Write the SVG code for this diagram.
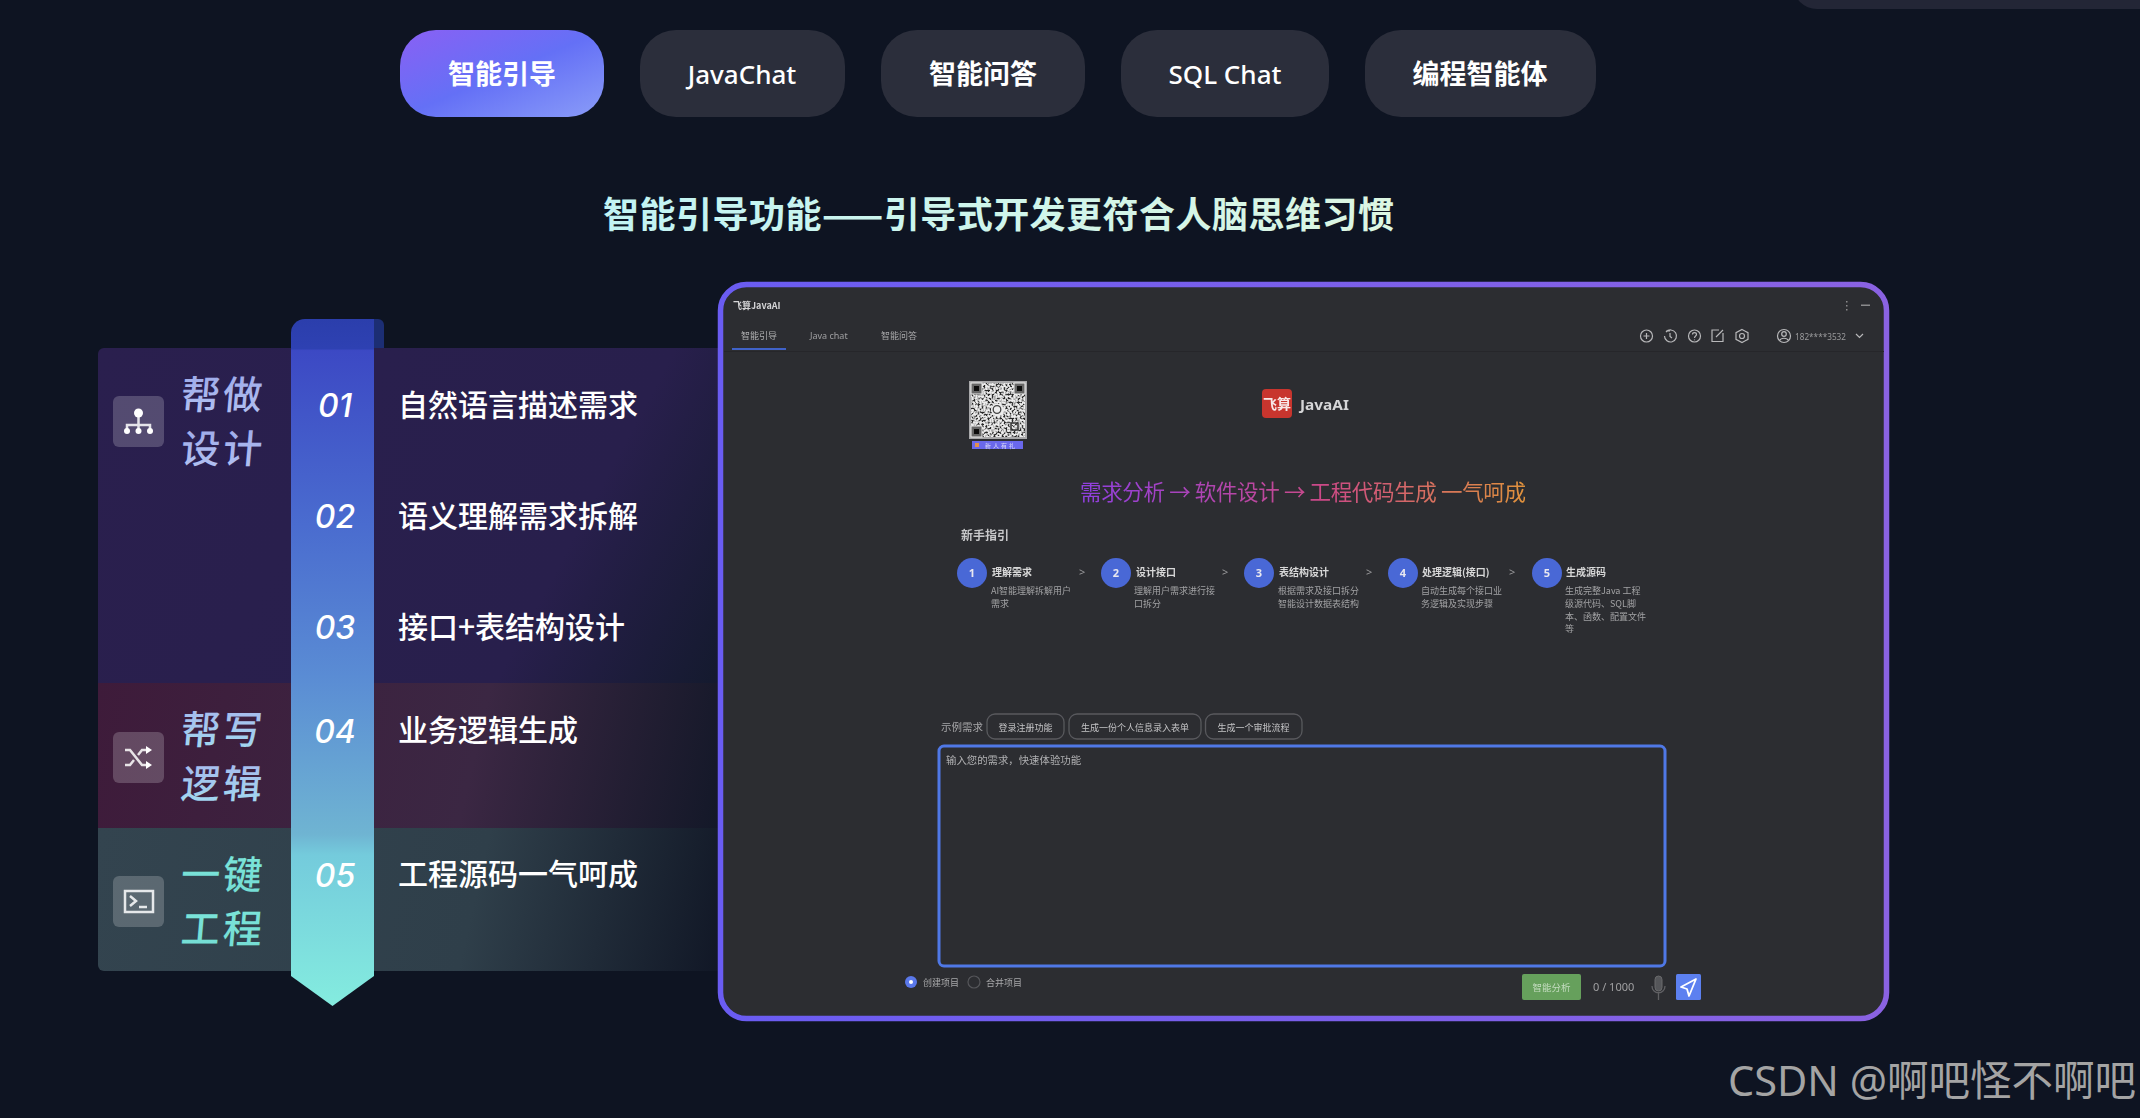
<svg xmlns="http://www.w3.org/2000/svg" width="2140" height="1118" viewBox="0 0 2140 1118">
<style>
text{font-family:"Noto Sans","Noto Sans CJK SC",sans-serif}
.cjk{font-family:"Noto Sans CJK SC","Noto Sans",sans-serif}
.tab{fill:#2b2e3b}
.tabt{font-size:27px;font-weight:700;fill:#fff;text-anchor:middle}
.tabl{font-size:26px;font-weight:500;fill:#fff;text-anchor:middle}
.num{font-family:"Inter","Noto Sans",sans-serif;font-size:32px;font-style:italic;font-weight:500;fill:#fff;text-anchor:middle}
.item{font-size:30px;font-weight:500;fill:#fff}
.lab{font-size:39px;font-weight:500;letter-spacing:3px}
.ico{fill:#fff;fill-opacity:.2}
.icl{fill:none;stroke:#fff;stroke-opacity:.85;stroke-width:2.5}
.st{font-size:10px;font-weight:700;fill:#d8d8d8}
.sd{font-size:9px;fill:#a2a2a4}
.c{fill:#4a67d6}
.cn{font-size:11px;font-weight:700;fill:#e8e8f0;text-anchor:middle}
.gt{font-size:11px;fill:#9a9a9c}
.chip{fill:none;stroke:#58595d;stroke-width:1.3}
.cht{font-size:9px;fill:#c4c4c6;text-anchor:middle}
.hi{fill:none;stroke:#b8b8ba;stroke-width:1.2}
</style>
<defs>
<linearGradient id="gTab" x1="0" y1="0" x2="1" y2="1"><stop offset="0" stop-color="#8a60f4"/><stop offset=".5" stop-color="#6470f6"/><stop offset="1" stop-color="#8a9cf8"/></linearGradient>
<linearGradient id="gTitle" x1="0" x2="1" y1="0" y2="0"><stop offset="0" stop-color="#c2f4f4"/><stop offset="1" stop-color="#dcf6e2"/></linearGradient>
<linearGradient id="p1" gradientUnits="userSpaceOnUse" x1="98" y1="348" x2="720" y2="683"><stop offset="0" stop-color="#2a1f4e"/><stop offset=".72" stop-color="#281f4c"/><stop offset="1" stop-color="#141a2e"/></linearGradient>
<linearGradient id="p2" gradientUnits="userSpaceOnUse" x1="98" y1="683" x2="720" y2="828"><stop offset="0" stop-color="#3e1b3a"/><stop offset=".6" stop-color="#3b2743"/><stop offset="1" stop-color="#131828"/></linearGradient>
<linearGradient id="p3" gradientUnits="userSpaceOnUse" x1="98" y1="828" x2="720" y2="971"><stop offset="0" stop-color="#33444f"/><stop offset=".6" stop-color="#2f3f4a"/><stop offset="1" stop-color="#111726"/></linearGradient>
<linearGradient id="rib" x1="0" x2="0" y1="0" y2="1"><stop offset="0" stop-color="#2b3eac"/><stop offset=".043" stop-color="#2e41b2"/><stop offset=".046" stop-color="#3c49c4"/><stop offset=".3" stop-color="#4a6ccf"/><stop offset=".52" stop-color="#5a8cd4"/><stop offset=".75" stop-color="#6fb4d2"/><stop offset=".78" stop-color="#74cbdc"/><stop offset="1" stop-color="#84ecdf"/></linearGradient>
<linearGradient id="lab1" x1="0" x2="0" y1="0" y2="1"><stop offset="0" stop-color="#9aa6e8"/><stop offset="1" stop-color="#b4c4f2"/></linearGradient>
<linearGradient id="lab2" x1="0" x2="0" y1="0" y2="1"><stop offset="0" stop-color="#a8b4ec"/><stop offset="1" stop-color="#a0dcf0"/></linearGradient>
<linearGradient id="lab3" x1="0" x2="0" y1="0" y2="1"><stop offset="0" stop-color="#7ce6da"/><stop offset="1" stop-color="#74dcd4"/></linearGradient>
<linearGradient id="gBorder" x1="0" x2="1" y1="0" y2="0"><stop offset="0" stop-color="#6a5cf2"/><stop offset="1" stop-color="#8a62e2"/></linearGradient>
<linearGradient id="gHead" gradientUnits="userSpaceOnUse" x1="1080" x2="1526" y1="0" y2="0"><stop offset="0" stop-color="#8f3fe0"/><stop offset=".55" stop-color="#cc4a86"/><stop offset="1" stop-color="#e0923c"/></linearGradient>
<filter id="soft" x="-2%" y="-2%" width="104%" height="104%"><feGaussianBlur stdDeviation="0.55"/></filter>
<filter id="qr" x="0" y="0" width="100%" height="100%" color-interpolation-filters="sRGB"><feTurbulence type="fractalNoise" baseFrequency=".5" numOctaves="2" seed="7"/><feColorMatrix values="0 0 0 0 .15  0 0 0 0 .15  0 0 0 0 .15  5 0 0 0 -2.3"/><feGaussianBlur stdDeviation=".3"/></filter>
</defs>
<rect width="2140" height="1118" fill="#0e1422"/>
<rect x="1793" y="-40" width="400" height="49" rx="24" fill="#232636"/>

<g id="tabs">
<g id="tab-guide"><rect x="400" y="30" width="204" height="87" rx="36" fill="url(#gTab)"/><text class="tabt cjk" x="502" y="84">智能引导</text></g>
<g id="tab-javachat"><rect class="tab" x="640" y="30" width="205" height="87" rx="36"/><text class="tabl" x="742" y="84">JavaChat</text></g>
<g id="tab-qa"><rect class="tab" x="881" y="30" width="204" height="87" rx="36"/><text class="tabt cjk" x="983" y="84">智能问答</text></g>
<g id="tab-sql"><rect class="tab" x="1121" y="30" width="208" height="87" rx="36"/><text class="tabl" x="1225" y="84">SQL Chat</text></g>
<g id="tab-agent"><rect class="tab" x="1365" y="30" width="231" height="87" rx="36"/><text class="tabt cjk" x="1480" y="84">编程智能体</text></g>
</g>
<text id="title" class="cjk" x="603" y="228" font-size="36" font-weight="700" fill="url(#gTitle)" textLength="791">智能引导功能——引导式开发更符合人脑思维习惯</text>

<g id="panels">
<path fill="url(#p1)" d="M104 348H730V683H98V354a6 6 0 0 1 6-6z"/>
<rect x="98" y="683" width="632" height="145" fill="url(#p2)"/>
<path fill="url(#p3)" d="M98 828H730V971H104a6 6 0 0 1-6-6z"/>
</g>
<g id="ribbon">
<path d="M370 319h8a6 6 0 0 1 6 6v23h-10z" fill="#1c2e74"/>
<path d="M305 319H374V976L332.500 1006L291 976V333a14 14 0 0 1 14-14z" fill="url(#rib)"/>
</g>

<g id="group-design">
<rect class="ico" x="113" y="396" width="51" height="51" rx="6"/>
<g fill="#fff"><circle cx="138.500" cy="413" r="4.500"/><circle cx="127" cy="431" r="3"/><circle cx="138.500" cy="431" r="3"/><circle cx="150" cy="431" r="3"/></g>
<path class="icl" d="M138.500 415v16M127 431v-6h23v6"/>
<text class="lab cjk" fill="url(#lab1)" transform="translate(180 409) skewX(-5)">帮做</text>
<text class="lab cjk" fill="url(#lab1)" transform="translate(180 463) skewX(-5)">设计</text>
</g>
<g id="group-logic">
<rect class="ico" x="113" y="732" width="51" height="51" rx="6"/>
<path class="icl" d="M125 750h5l12 15h5M125 765h5l4-5M138 755l4-5h5"/>
<path fill="#fff" d="M146 746l6 4-6 4zM146 761l6 4-6 4z"/>
<text class="lab cjk" fill="url(#lab2)" transform="translate(180 744) skewX(-5)">帮写</text>
<text class="lab cjk" fill="url(#lab2)" transform="translate(180 798) skewX(-5)">逻辑</text>
</g>
<g id="group-project">
<rect class="ico" x="113" y="876" width="51" height="51" rx="6"/>
<rect class="icl" x="125" y="891" width="28" height="21"/>
<path class="icl" d="M130 896l6 5-6 5M139 907h8"/>
<text class="lab cjk" fill="url(#lab3)" transform="translate(180 889) skewX(-5)">一键</text>
<text class="lab cjk" fill="url(#lab3)" transform="translate(180 943) skewX(-5)">工程</text>
</g>

<g id="steps-left">
<g id="step-01"><text class="num" x="335" y="417">01</text><text class="item cjk" x="398" y="416">自然语言描述需求</text></g>
<g id="step-02"><text class="num" x="335" y="528">02</text><text class="item cjk" x="398" y="527">语义理解需求拆解</text></g>
<g id="step-03"><text class="num" x="335" y="639">03</text><text class="item cjk" x="398" y="638">接口+表结构设计</text></g>
<g id="step-04"><text class="num" x="335" y="743">04</text><text class="item cjk" x="398" y="741">业务逻辑生成</text></g>
<g id="step-05"><text class="num" x="335" y="887">05</text><text class="item cjk" x="398" y="885">工程源码一气呵成</text></g>
</g>

<g id="screenshot">
<rect x="720.500" y="284.500" width="1166" height="734" rx="26" fill="#2c2d31" stroke="url(#gBorder)" stroke-width="5.500"/>
<g filter="url(#soft)">
<text class="cjk" x="733" y="309" font-size="9" font-weight="700" fill="#d4d4d6">飞算JavaAI</text>
<text class="cjk" x="741" y="339" font-size="9" fill="#b0b0b2">智能引导</text>
<text x="810" y="339" font-size="9" fill="#a0a0a2">Java chat</text>
<text class="cjk" x="881" y="339" font-size="9" fill="#a8a8aa">智能问答</text>
<rect x="732" y="348" width="54" height="2" fill="#3f62c8"/>
<rect x="724" y="351" width="1160" height="1" fill="#26272b"/>
<g id="win-controls" fill="#8a8a8c"><rect x="1846" y="301" width="1.500" height="1.500"/><rect x="1846" y="305" width="1.500" height="1.500"/><rect x="1846" y="309" width="1.500" height="1.500"/><rect x="1861" y="304.500" width="9" height="1.500"/></g>
<g id="toolbar">
<circle class="hi" cx="1646.500" cy="336" r="6"/><path class="hi" d="M1643.500 336h6M1646.500 333v6"/>
<path class="hi" d="M1666 332a6 6 0 1 1-1.500 4M1666 331h4M1670 333v3.500l2 1.500"/>
<circle class="hi" cx="1694.500" cy="336" r="6"/><path class="hi" d="M1692.500 334.500c0-2.500 4-2.500 4 0 0 1.500-2 1.500-2 3.500M1694.500 339.500v.8"/>
<path class="hi" d="M1723 333v8.500h-11V330h7M1716 337l7-7"/>
<path class="hi" d="M1742 329.500l6 3.200v6.600l-6 3.200-6-3.200v-6.600z"/><circle class="hi" cx="1742" cy="336" r="2.500"/>
<circle class="hi" cx="1784" cy="336" r="6.500"/><circle class="hi" cx="1784" cy="334" r="2.300"/><path class="hi" d="M1779.500 340.500c1.500-3 7.500-3 9 0"/>
<text x="1795" y="340" font-size="9" fill="#9a9a9c" textLength="51" lengthAdjust="spacingAndGlyphs">182****3532</text>
<path class="hi" d="M1856 334l3.500 3.500 3.500-3.500"/>
</g>
<g id="qr-code">
<rect x="969" y="381" width="58" height="58" fill="#a8a8aa"/>
<rect x="971" y="383" width="54" height="54" fill="#ececec"/>
<rect x="971" y="383" width="54" height="54" filter="url(#qr)"/>
<circle cx="997.500" cy="410" r="6.500" fill="#ececec"/>
<circle cx="997" cy="409.500" r="3.800" fill="none" stroke="#444" stroke-width="1.300"/>
<g fill="#666" stroke="#ececec" stroke-width="1"><rect x="971" y="383" width="11" height="11"/><rect x="1014" y="383" width="11" height="11"/><rect x="971" y="426" width="11" height="11"/></g>
<g fill="#111"><rect x="974" y="386" width="5" height="5"/><rect x="1017" y="386" width="5" height="5"/><rect x="974" y="429" width="5" height="5"/></g>
<rect x="1011" y="423" width="7" height="7" fill="none" stroke="#333" stroke-width="1.500"/>
<rect x="972" y="441" width="51" height="8" fill="#6a68ec"/>
<rect x="975" y="443" width="4" height="4" fill="#e09050"/>
<text class="cjk" x="985" y="448" font-size="6" letter-spacing="2" fill="#dcdcf8">新人有礼</text>
</g>
<g id="logo">
<rect x="1262" y="389" width="30" height="29" rx="4" fill="#c8362e"/>
<text class="cjk" x="1277" y="409" font-size="14" font-weight="700" fill="#f8e8e8" text-anchor="middle">飞算</text>
<text x="1300" y="410" font-size="15" font-weight="700" fill="#d6d6d8" textLength="49" lengthAdjust="spacingAndGlyphs">JavaAI</text>
</g>
<text id="headline" class="cjk" x="1080" y="500" font-size="21.500" fill="url(#gHead)" textLength="446">需求分析 → 软件设计 → 工程代码生成 一气呵成</text>
<text class="cjk" x="961" y="540" font-size="12" font-weight="700" fill="#c8c8ca">新手指引</text>

<g id="guide-1"><circle class="c" cx="972" cy="573" r="15"/><text class="cn" x="972" y="577">1</text><text class="st cjk" x="992" y="576">理解需求</text><text class="sd cjk" x="991" y="594">AI智能理解拆解用户</text><text class="sd cjk" x="991" y="607">需求</text></g>
<text class="gt" x="1079" y="576">&gt;</text>
<g id="guide-2"><circle class="c" cx="1116" cy="573" r="15"/><text class="cn" x="1116" y="577">2</text><text class="st cjk" x="1136" y="576">设计接口</text><text class="sd cjk" x="1134" y="594">理解用户需求进行接</text><text class="sd cjk" x="1134" y="607">口拆分</text></g>
<text class="gt" x="1222" y="576">&gt;</text>
<g id="guide-3"><circle class="c" cx="1259" cy="573" r="15"/><text class="cn" x="1259" y="577">3</text><text class="st cjk" x="1279" y="576">表结构设计</text><text class="sd cjk" x="1278" y="594">根据需求及接口拆分</text><text class="sd cjk" x="1278" y="607">智能设计数据表结构</text></g>
<text class="gt" x="1366" y="576">&gt;</text>
<g id="guide-4"><circle class="c" cx="1403" cy="573" r="15"/><text class="cn" x="1403" y="577">4</text><text class="st cjk" x="1422" y="576">处理逻辑(接口)</text><text class="sd cjk" x="1421" y="594">自动生成每个接口业</text><text class="sd cjk" x="1421" y="607">务逻辑及实现步骤</text></g>
<text class="gt" x="1509" y="576">&gt;</text>
<g id="guide-5"><circle class="c" cx="1547" cy="573" r="15"/><text class="cn" x="1547" y="577">5</text><text class="st cjk" x="1566" y="576">生成源码</text><text class="sd cjk" x="1565" y="594">生成完整Java 工程</text><text class="sd cjk" x="1565" y="607">级源代码、SQL脚</text><text class="sd cjk" x="1565" y="620">本、函数、配置文件</text><text class="sd cjk" x="1565" y="632">等</text></g>

<g id="examples">
<text class="cjk" x="941" y="731" font-size="10.500" fill="#a8a8aa">示例需求</text>
<rect class="chip" x="987" y="714" width="77" height="25" rx="8"/><text class="cht cjk" x="1025.500" y="731">登录注册功能</text>
<rect class="chip" x="1069" y="714" width="132" height="25" rx="8"/><text class="cht cjk" x="1135" y="731">生成一份个人信息录入表单</text>
<rect class="chip" x="1205.500" y="714" width="96.500" height="25" rx="8"/><text class="cht cjk" x="1253.500" y="731">生成一个审批流程</text>
</g>
<g id="input">
<rect x="939" y="746" width="726" height="220" rx="5" fill="none" stroke="#4f78e6" stroke-width="3"/>
<text class="cjk" x="946" y="764" font-size="10.400" fill="#b0b0b2">输入您的需求，快速体验功能</text>
</g>
<g id="radios">
<circle cx="911" cy="982" r="6" fill="#5a78ea"/><circle cx="911" cy="982" r="2" fill="#fff"/>
<text class="cjk" x="923" y="986" font-size="9" fill="#a8a8aa">创建项目</text>
<circle cx="974" cy="982" r="6" fill="none" stroke="#55565a" stroke-width="1.200"/>
<text class="cjk" x="986" y="986" font-size="9" fill="#a8a8aa">合并项目</text>
</g>
<g id="actions">
<rect x="1522" y="974" width="59" height="26" rx="2" fill="#66a05c"/>
<text class="cjk" x="1551.500" y="991" font-size="9.500" fill="#c4dcc0" text-anchor="middle">智能分析</text>
<text x="1593" y="991" font-size="11" fill="#a0a0a2">0 / 1000</text>
<rect x="1655" y="976" width="7" height="15" rx="3.500" fill="#55565a" stroke="#6a6a6c"/>
<path d="M1652 986c0 9 13 9 13 0M1658.500 993v7" fill="none" stroke="#606064" stroke-width="1.300"/>
<rect x="1676" y="974" width="25" height="26" rx="1.500" fill="#5b80f0"/>
<path d="M1696 979l-15 8 6 2 2 7z" fill="none" stroke="#fff" stroke-width="1.800" stroke-linejoin="round"/>
</g>
</g>
</g>
<text id="watermark" x="2136" y="1096" text-anchor="end" font-size="41.500" fill="#a4a4a4" style="font-family:'Noto Sans','Noto Sans CJK SC',sans-serif">CSDN @啊吧怪不啊吧</text>
</svg>
